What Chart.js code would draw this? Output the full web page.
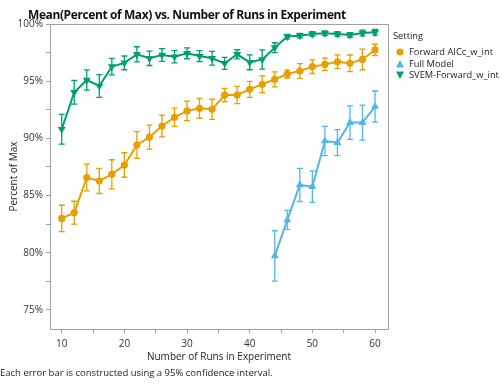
<!DOCTYPE html>
<html>
<head>
<meta charset="utf-8">
<script src="https://cdn.jsdelivr.net/npm/chart.js@4.4.0/dist/chart.umd.min.js"></script>
<style>
  html, body { margin: 0; padding: 0; background: #fff; }
  #wrap { position: relative; width: 502px; height: 388px; overflow: hidden; font-family: "Open Sans", "Noto Sans", sans-serif; }
  #c { position: absolute; left: 0; top: 0; }
  .txt { position: absolute; white-space: nowrap; color: #111; }
  #title { left: 28px; top: 6px; font-size: 12px; font-weight: bold; line-height: 18px; letter-spacing: -0.4px; }
  #foot { left: 0px; top: 366px; font-size: 9.5px; line-height: 14px; color: #222; }
  #legend { position: absolute; left: 393px; top: 28px; font-size: 9.3px; color: #222; }
  #legend .row { position: relative; height: 11.5px; line-height: 11.5px; padding-left: 16px; white-space: nowrap; }
  #legend .head { height: 16px; line-height: 16px; margin-bottom: 2px; }
  #legend svg { position: absolute; left: 2px; top: 1px; }
</style>
</head>
<body>
<div id="wrap">
  <canvas id="c" width="502" height="388"></canvas>
  <div class="txt" id="title">Mean(Percent of Max) vs. Number of Runs in Experiment</div>
  <div id="legend">
    <div class="head">Setting</div>
    <div class="row"><svg width="10" height="10"><circle cx="5" cy="5" r="3.6" fill="#E69F00"/></svg>Forward AICc_w_int</div>
    <div class="row"><svg width="10" height="10"><polygon points="5,1 9,8.5 1,8.5" fill="#56B4E9"/></svg>Full Model</div>
    <div class="row"><svg width="10" height="10"><polygon points="1,1.5 9,1.5 5,9" fill="#009E73"/></svg>SVEM-Forward_w_int</div>
  </div>
  <div class="txt" id="foot">Each error bar is constructed using a 95% confidence interval.</div>
</div>
<script>
// ---- data ----
const runs = [10,12,14,16,18,20,22,24,26,28,30,32,34,36,38,40,42,44,46,48,50,52,54,56,58,60];
const forwardMean = [83.0,83.5,86.57,86.28,86.86,87.67,89.42,90.1,91.08,91.84,92.4,92.63,92.54,93.79,93.79,94.29,94.73,95.16,95.63,95.89,96.27,96.47,96.7,96.56,96.9,97.73];
const forwardErr  = [1.15,1.0,1.17,1.1,1.27,1.07,1.17,1.05,0.95,0.8,0.85,0.87,0.88,0.58,0.76,0.7,0.73,0.65,0.35,0.65,0.6,0.55,0.6,0.73,0.9,0.5];
const fullRuns = [44,46,48,50,52,54,56,58,60];
const fullMean = [79.72,82.87,85.93,85.78,89.77,89.63,91.38,91.38,92.78];
const fullErr  = [2.2,0.83,1.45,1.38,1.28,1.14,1.46,1.53,1.36];
const svemMean = [90.8,94.03,95.1,94.58,96.27,96.6,97.35,97.0,97.29,97.14,97.44,97.2,97.0,96.56,97.35,96.65,96.9,97.93,98.9,98.98,99.13,99.19,99.13,99.04,99.21,99.27];
const svemErr  = [1.3,1.03,0.88,1.0,0.72,0.6,0.66,0.63,0.55,0.54,0.48,0.48,0.6,0.53,0.4,0.65,0.84,0.43,0.2,0.2,0.2,0.2,0.2,0.2,0.25,0.25];
const yTickLabels = [75,80,85,90,95,100];
const xTickLabels = [10,20,30,40,50,60];

const C_OR = '#E69F00', C_BL = '#56B4E9', C_GR = '#009E73';

function pts(xs, ys, es) { return xs.map((x, i) => ({ x: x, y: ys[i], e: es[i] })); }

const errPlugin = {
  id: 'errbars',
  beforeDatasetsDraw(chart) {
    const ctx = chart.ctx;
    const xs = chart.scales.x, ys = chart.scales.y;
    chart.data.datasets.forEach(ds => {
      ctx.save();
      ctx.strokeStyle = ds.borderColor;
      ctx.lineWidth = 1.3;
      ds.data.forEach(p => {
        const px = xs.getPixelForValue(p.x);
        const top = ys.getPixelForValue(p.y + p.e);
        const bot = ys.getPixelForValue(p.y - p.e);
        ctx.beginPath();
        ctx.moveTo(px, top); ctx.lineTo(px, bot);
        ctx.moveTo(px - 3, top); ctx.lineTo(px + 3, top);
        ctx.moveTo(px - 3, bot); ctx.lineTo(px + 3, bot);
        ctx.stroke();
      });
      ctx.restore();
    });
  }
};
const framePlugin = {
  id: 'frame',
  afterDraw(chart) {
    const a = chart.chartArea, ctx = chart.ctx;
    ctx.save();
    ctx.strokeStyle = '#a0a0a0';
    ctx.lineWidth = 1;
    ctx.strokeRect(Math.round(a.left) + 0.5, Math.round(a.top) + 0.5, Math.round(a.right - a.left), Math.round(a.bottom - a.top));
    ctx.restore();
  }
};

const tickFont = { family: '"Open Sans", "Noto Sans", sans-serif', size: 10 };

new Chart(document.getElementById('c'), {
  type: 'line',
  data: {
    datasets: [
      { label: 'Forward AICc_w_int', data: pts(runs, forwardMean, forwardErr), borderColor: C_OR, backgroundColor: C_OR,
        pointStyle: 'circle', pointRadius: 3.6, borderWidth: 2, pointBorderWidth: 0 },
      { label: 'Full Model', data: pts(fullRuns, fullMean, fullErr), borderColor: C_BL, backgroundColor: C_BL,
        pointStyle: 'triangle', pointRadius: 4.6, borderWidth: 2, pointBorderWidth: 0 },
      { label: 'SVEM-Forward_w_int', data: pts(runs, svemMean, svemErr), borderColor: C_GR, backgroundColor: C_GR,
        pointStyle: 'triangle', rotation: 180, pointRadius: 4.6, borderWidth: 2, pointBorderWidth: 0 }
    ]
  },
  options: {
    responsive: false,
    devicePixelRatio: 1,
    animation: false,
    layout: { padding: { top: 24, right: 114, bottom: 23, left: 0 } },
    plugins: { legend: { display: false }, title: { display: false }, tooltip: { enabled: false } },
    elements: { line: { tension: 0 } },
    scales: {
      x: {
        type: 'linear', min: 8.13, max: 62.07,
        afterFit(s) { s.height = 36; },
        ticks: { stepSize: 5, includeBounds: false, autoSkip: false, maxRotation: 0, padding: 5, color: '#333', font: tickFont,
          callback: v => xTickLabels.includes(v) ? String(v) : '' },
        grid: { display: true, drawOnChartArea: false, drawTicks: true, tickLength: 4, tickColor: '#a0a0a0' },
        border: { display: true, color: '#a0a0a0' },
        title: { display: true, text: 'Number of Runs in Experiment', color: '#222', font: tickFont, padding: { top: 0, bottom: 2 } }
      },
      y: {
        type: 'linear', min: 73.33, max: 100,
        afterFit(s) { s.width = 50; },
        ticks: { stepSize: 2.5, includeBounds: false, autoSkip: false, padding: 3, color: '#333', font: tickFont,
          callback: v => yTickLabels.includes(v) ? v + '%' : '' },
        grid: { display: true, drawOnChartArea: false, drawTicks: true, tickLength: 4, tickColor: '#a0a0a0' },
        border: { display: true, color: '#a0a0a0' },
        title: { display: true, text: 'Percent of Max', color: '#222', font: tickFont, padding: { top: 8, bottom: 0 } }
      }
    }
  },
  plugins: [errPlugin, framePlugin]
});
</script>
</body>
</html>
